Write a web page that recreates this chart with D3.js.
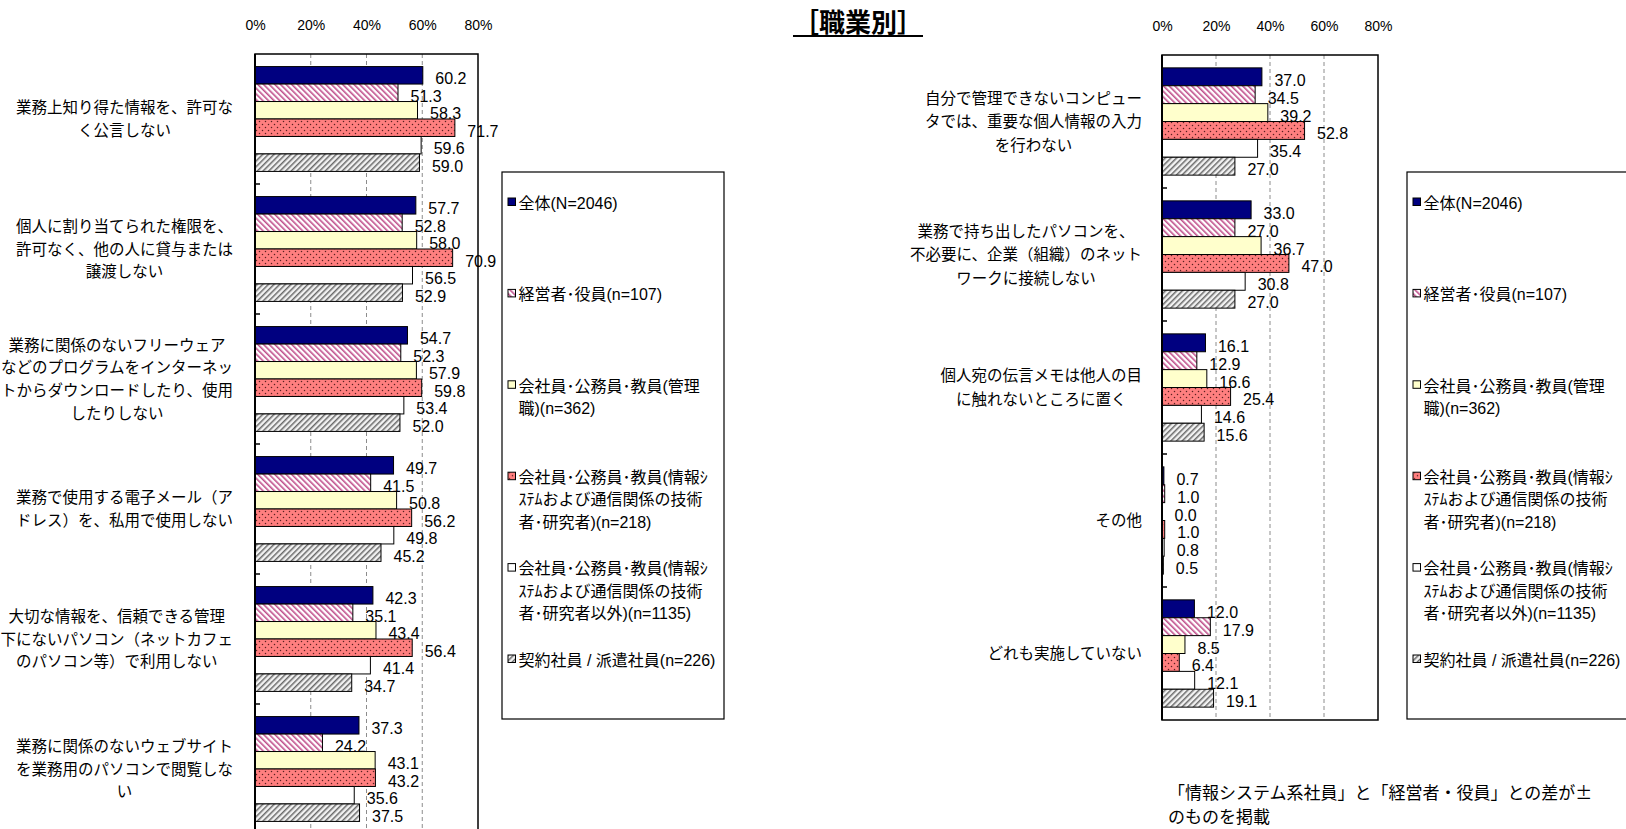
<!DOCTYPE html>
<html>
<head>
<meta charset="utf-8">
<script src="https://cdn.jsdelivr.net/npm/d3@7"></script>
<style>
  body { margin: 0; background: #fff; }
  svg { display: block; }
</style>
</head>
<body>
<script>
// series (legend) and their wrapped legend lines
const series = [
  '全体(N=2046)',
  '経営者・役員(n=107)',
  '会社員・公務員・教員(管理職)(n=362)',
  '会社員・公務員・教員(情報システムおよび通信関係の技術者・研究者)(n=218)',
  '会社員・公務員・教員(情報システムおよび通信関係の技術者・研究者以外)(n=1135)',
  '契約社員/派遣社員(n=226)',
];
const seriesLines = [
  ['全体(N=2046)'],
  ['経営者･役員(n=107)'],
  ['会社員･公務員･教員(管理', '職)(n=362)'],
  ['会社員･公務員･教員(情報ｼ', 'ｽﾃﾑおよび通信関係の技術', '者･研究者)(n=218)'],
  ['会社員･公務員･教員(情報ｼ', 'ｽﾃﾑおよび通信関係の技術', '者･研究者以外)(n=1135)'],
  ['契約社員 / 派遣社員(n=226)'],
];

const leftCats = [
  ['業務上知り得た情報を、許可な', 'く公言しない'],
  ['個人に割り当てられた権限を、', '許可なく、他の人に貸与または', '譲渡しない'],
  ['業務に関係のないフリーウェア', 'などのプログラムをインターネッ', 'トからダウンロードしたり、使用', 'したりしない'],
  ['業務で使用する電子メール（ア', 'ドレス）を、私用で使用しない'],
  ['大切な情報を、信頼できる管理', '下にないパソコン（ネットカフェ', 'のパソコン等）で利用しない'],
  ['業務に関係のないウェブサイト', 'を業務用のパソコンで閲覧しな', 'い'],
];
const leftValues = [
  [60.2, 51.3, 58.3, 71.7, 59.6, 59.0],
  [57.7, 52.8, 58.0, 70.9, 56.5, 52.9],
  [54.7, 52.3, 57.9, 59.8, 53.4, 52.0],
  [49.7, 41.5, 50.8, 56.2, 49.8, 45.2],
  [42.3, 35.1, 43.4, 56.4, 41.4, 34.7],
  [37.3, 24.2, 43.1, 43.2, 35.6, 37.5],
];

const rightCats = [
  ['自分で管理できないコンピュー', 'タでは、重要な個人情報の入力', 'を行わない'],
  ['業務で持ち出したパソコンを、', '不必要に、企業（組織）のネット', 'ワークに接続しない'],
  ['個人宛の伝言メモは他人の目', 'に触れないところに置く'],
  ['その他'],
  ['どれも実施していない'],
];
const rightValues = [
  [37.0, 34.5, 39.2, 52.8, 35.4, 27.0],
  [33.0, 27.0, 36.7, 47.0, 30.8, 27.0],
  [16.1, 12.9, 16.6, 25.4, 14.6, 15.6],
  [0.7, 1.0, 0.0, 1.0, 0.8, 0.5],
  [12.0, 17.9, 8.5, 6.4, 12.1, 19.1],
];

const tickValues = [0, 20, 40, 60, 80];
const gridValues = [20, 40, 60];

const title = '［職業別］';
const noteLines = ['「情報システム系社員」と「経営者・役員」との差が±', 'のものを掲載'];

const fills = ['#000080', 'url(#pinkStripe)', '#FFFFCC', 'url(#redDots)', '#FFFFFF', 'url(#grayStripe)'];

const W = 1626, H = 829;
const latin = "'Liberation Sans', 'Noto Sans CJK JP', sans-serif";
const jp = "'Noto Sans CJK JP', sans-serif";

const svg = d3.select('body').append('svg')
    .attr('width', W)
    .attr('height', H);

// patterns
const defs = svg.append('defs');
const pink = defs.append('pattern')
    .attr('id', 'pinkStripe')
    .attr('patternUnits', 'userSpaceOnUse')
    .attr('width', 4).attr('height', 4)
    .attr('patternTransform', 'rotate(-45)');
pink.append('rect').attr('width', 4).attr('height', 4).attr('fill', '#fff');
pink.append('rect').attr('width', 1.6).attr('height', 4).attr('fill', '#C0508C');

const gray = defs.append('pattern')
    .attr('id', 'grayStripe')
    .attr('patternUnits', 'userSpaceOnUse')
    .attr('width', 4).attr('height', 4)
    .attr('patternTransform', 'rotate(45)');
gray.append('rect').attr('width', 4).attr('height', 4).attr('fill', '#f2f2f2');
gray.append('rect').attr('width', 1.5).attr('height', 4).attr('fill', '#6a6a6a');

const dots = defs.append('pattern')
    .attr('id', 'redDots')
    .attr('patternUnits', 'userSpaceOnUse')
    .attr('width', 6).attr('height', 6);
dots.append('rect').attr('width', 6).attr('height', 6).attr('fill', '#FF7F7F');
dots.append('circle').attr('cx', 1.5).attr('cy', 1.5).attr('r', 0.75).attr('fill', '#5a2020');
dots.append('circle').attr('cx', 4.5).attr('cy', 4.5).attr('r', 0.75).attr('fill', '#5a2020');

function drawPanel({ cats, values, xRange, yRange, labelRight, lineHeight, legendX }) {
  const g = svg.append('g');
  const x = d3.scaleLinear().domain([0, 80]).range(xRange);
  const y = d3.scaleBand().domain(d3.range(cats.length)).range(yRange);
  const ys = d3.scaleBand().domain(d3.range(series.length))
      .range([0, y.bandwidth()])
      .paddingOuter(0.72);

  // tick labels on top
  const ax = g.append('g')
      .attr('transform', `translate(0,${yRange[0]})`)
      .call(d3.axisTop(x).tickValues(tickValues).tickFormat(d => d + '%').tickSize(0).tickPadding(24));
  ax.select('.domain').remove();
  ax.selectAll('text')
      .style('font-family', latin)
      .style('font-size', '14px')
      .attr('fill', '#000');

  // dashed grid
  g.selectAll('line.grid').data(gridValues).enter()
    .append('line')
      .attr('class', 'grid')
      .attr('x1', d => x(d)).attr('x2', d => x(d))
      .attr('y1', yRange[0]).attr('y2', yRange[1])
      .attr('stroke', '#8c8c8c')
      .attr('stroke-width', 1)
      .attr('stroke-dasharray', '4,3');

  // frame
  g.append('rect')
      .attr('x', xRange[0]).attr('y', yRange[0])
      .attr('width', xRange[1] - xRange[0])
      .attr('height', yRange[1] - yRange[0])
      .attr('fill', 'none')
      .attr('stroke', '#000')
      .attr('stroke-width', 1.5);

  // bars
  const groups = g.selectAll('g.cat').data(values).enter()
    .append('g')
      .attr('class', 'cat')
      .attr('transform', (d, i) => `translate(0,${y(i)})`);

  groups.selectAll('rect').data(d => d).enter()
    .append('rect')
      .attr('x', x(0))
      .attr('y', (d, j) => ys(j))
      .attr('width', d => x(d) - x(0))
      .attr('height', ys.bandwidth())
      .attr('fill', (d, j) => fills[j])
      .attr('stroke', '#000')
      .attr('stroke-width', 1);

  groups.selectAll('text').data(d => d).enter()
    .append('text')
      .attr('x', d => x(d) + 12.5)
      .attr('y', (d, j) => ys(j) + ys.bandwidth() / 2 + 9)
      .style('font-family', latin)
      .style('font-size', '16px')
      .attr('fill', '#000')
      .text(d => d.toFixed(1));

  // left axis line and category ticks
  g.append('line')
      .attr('x1', xRange[0]).attr('x2', xRange[0])
      .attr('y1', yRange[0]).attr('y2', yRange[1])
      .attr('stroke', '#000').attr('stroke-width', 2);
  g.selectAll('line.ctick').data(d3.range(1, cats.length)).enter()
    .append('line')
      .attr('class', 'ctick')
      .attr('x1', xRange[0]).attr('x2', xRange[0] + 5)
      .attr('y1', i => y(i)).attr('y2', i => y(i))
      .attr('stroke', '#000').attr('stroke-width', 1.5);

  // category labels: block right-aligned, lines centered
  cats.forEach((lines, i) => {
    const lg = g.append('g');
    const cy = y(i) + y.bandwidth() / 2;
    const texts = lg.selectAll('text').data(lines).enter()
      .append('text')
        .attr('y', (d, k) => cy + (k - (lines.length - 1) / 2) * lineHeight)
        .attr('dy', '0.36em')
        .attr('text-anchor', 'middle')
        .style('font-family', jp)
        .style('font-size', '15.5px')
        .attr('fill', '#000')
        .text(d => d);
    const maxW = d3.max(texts.nodes(), n => n.getComputedTextLength());
    texts.attr('x', labelRight - maxW / 2);
  });

  // legend
  const lgTop = 172, lgBottom = 719, lgW = 222;
  g.append('rect')
      .attr('x', legendX).attr('y', lgTop)
      .attr('width', lgW).attr('height', lgBottom - lgTop)
      .attr('fill', '#fff')
      .attr('stroke', '#000')
      .attr('stroke-width', 1.2);
  const ly = d3.scalePoint().domain(series).range([203, 660]);
  const items = g.selectAll('g.leg').data(series).enter()
    .append('g')
      .attr('class', 'leg')
      .attr('transform', d => `translate(${legendX},${ly(d)})`);
  items.append('rect')
      .attr('x', 6).attr('y', -5)
      .attr('width', 7.5).attr('height', 7.5)
      .attr('fill', (d, j) => fills[j])
      .attr('stroke', '#000')
      .attr('stroke-width', 1);
  items.each(function (d, j) {
    d3.select(this).selectAll('text').data(seriesLines[j]).enter()
      .append('text')
        .attr('x', 16.5)
        .attr('y', (t, k) => k * 22.5)
        .attr('dy', '0.36em')
        .style('font-family', latin)
        .style('font-size', '16px')
        .attr('fill', '#000')
        .text(t => t);
  });
}

drawPanel({
  cats: leftCats, values: leftValues,
  xRange: [255, 478], yRange: [54, 834],
  labelRight: 233, lineHeight: 22.7, legendX: 502,
});
drawPanel({
  cats: rightCats, values: rightValues,
  xRange: [1162, 1378], yRange: [55, 720],
  labelRight: 1142, lineHeight: 23.5, legendX: 1407,
});

// title
const t = svg.append('text')
    .attr('x', 858).attr('y', 32)
    .attr('text-anchor', 'middle')
    .style('font-family', jp)
    .style('font-size', '26px')
    .style('font-weight', 'bold')
    .attr('fill', '#000')
    .text(title);
const bb = t.node().getBBox();
svg.append('line')
    .attr('x1', bb.x).attr('x2', bb.x + bb.width)
    .attr('y1', 36).attr('y2', 36)
    .attr('stroke', '#000').attr('stroke-width', 2);

// note
svg.selectAll('text.note').data(noteLines).enter()
  .append('text')
    .attr('class', 'note')
    .attr('x', 1168)
    .attr('y', (d, i) => 793 + i * 24)
    .attr('dy', '0.36em')
    .style('font-family', jp)
    .style('font-size', '17px')
    .attr('fill', '#000')
    .text(d => d);
</script>
</body>
</html>
